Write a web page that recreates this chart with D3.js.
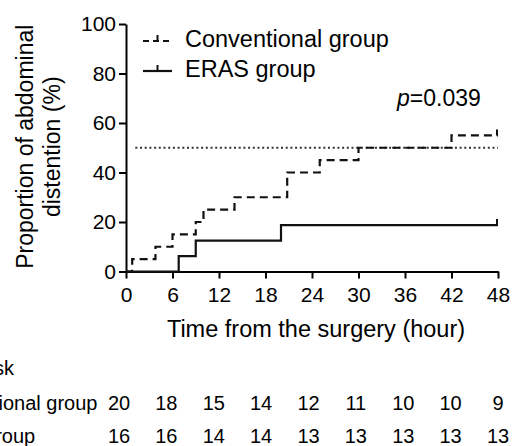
<!DOCTYPE html>
<html>
<head>
<meta charset="utf-8">
<script src="https://cdn.jsdelivr.net/npm/d3@7"></script>
<style>
  body { margin: 0; background: #fff; }
  svg { display: block; font-family: "Liberation Sans", Arial, sans-serif; }
</style>
</head>
<body>
<div id="graph"></div>
<script>
// values
const xTicks = [0, 6, 12, 18, 24, 30, 36, 42, 48];
const yTicks = [0, 20, 40, 60, 80, 100];

const convTimes  = [0, 0.8, 3.8, 6, 9, 10, 14, 20.8, 25, 30, 42, 48];
const convValues = [0, 5, 10, 15, 20, 25, 30, 40, 45, 50, 55, 55];
const erasTimes  = [0, 6.8, 9, 20, 48];
const erasValues = [0, 6.25, 12.5, 18.75, 18.75];

const refLevel = 50;
const refStart = 1.2;
const pText = "=0.039";

const groups = ["Conventional group", "ERAS group"];
const convAtRisk = [20, 18, 15, 14, 12, 11, 10, 10, 9];
const erasAtRisk = [16, 16, 14, 14, 13, 13, 13, 13, 13];

const width = 512, height = 446;

const svg = d3.select('#graph')
  .append('svg')
  .attr('width', width).attr('height', height)
  .style('background', 'white');

const xScale = d3.scaleLinear().domain([0, 48]).range([126, 498]);
const yScale = d3.scaleLinear().domain([0, 100]).range([271.5, 24]);

// axes
const xAxis = d3.axisBottom(xScale).tickValues(xTicks).tickSize(7).tickSizeOuter(0).tickPadding(9);
const yAxis = d3.axisLeft(yScale).tickValues(yTicks).tickSize(7).tickSizeOuter(0).tickPadding(3);

const gx = svg.append('g').attr('transform', `translate(0,${yScale(0)})`).call(xAxis);
const gy = svg.append('g').attr('transform', `translate(${xScale(0)},0)`).call(yAxis);

[gx, gy].forEach(g => {
  g.select('.domain').attr('stroke', '#000').attr('stroke-width', 2);
  g.selectAll('.tick line').attr('stroke', '#000').attr('stroke-width', 2);
  g.selectAll('.tick text').attr('fill', '#000').style('font-size', '21px')
    .style('font-family', '"Liberation Sans", Arial, sans-serif');
});

// reference line at 50%
svg.append('line')
  .attr('x1', xScale(refStart)).attr('x2', xScale(48))
  .attr('y1', yScale(refLevel)).attr('y2', yScale(refLevel))
  .attr('stroke', '#333').attr('stroke-width', 2)
  .attr('stroke-dasharray', '2,2.7');

const line = d3.line()
  .x(d => xScale(d[0]))
  .y(d => yScale(d[1]))
  .curve(d3.curveStepAfter);

const convData = convTimes.map((t, i) => [t, convValues[i]]);
const erasData = erasTimes.map((t, i) => [t, erasValues[i]]);

svg.append('path')
  .datum(convData)
  .attr('d', line)
  .attr('fill', 'none')
  .attr('stroke', '#111')
  .attr('stroke-width', 2.2)
  .attr('stroke-dasharray', '8,5');

svg.append('path')
  .datum(erasData)
  .attr('d', line)
  .attr('fill', 'none')
  .attr('stroke', '#111')
  .attr('stroke-width', 2.2);

// censor ticks at the end of follow-up
[[48, convValues[convValues.length - 1]], [48, erasValues[erasValues.length - 1]]].forEach(d => {
  svg.append('line')
    .attr('x1', xScale(d[0]) - 1).attr('x2', xScale(d[0]) - 1)
    .attr('y1', yScale(d[1])).attr('y2', yScale(d[1]) - 6)
    .attr('stroke', '#111').attr('stroke-width', 2);
});

// legend
const legend = svg.append('g');
const legendY = [41, 71];
groups.forEach((g, i) => {
  const row = legend.append('g').attr('transform', `translate(0,${legendY[i]})`);
  row.append('line')
    .attr('x1', 143).attr('x2', 172).attr('y1', 0).attr('y2', 0)
    .attr('stroke', '#111').attr('stroke-width', 2.2)
    .attr('stroke-dasharray', i === 0 ? '6,4' : null);
  row.append('line')
    .attr('x1', 157.5).attr('x2', 157.5).attr('y1', 0).attr('y2', -6)
    .attr('stroke', '#111').attr('stroke-width', 2);
  row.append('text')
    .attr('x', 185).attr('y', 6)
    .style('font-size', '23.5px')
    .text(g);
});

// p value
const pt = svg.append('text')
  .attr('x', 397).attr('y', 106)
  .style('font-size', '23px');
pt.append('tspan').style('font-style', 'italic').text('p');
pt.append('tspan').text(pText);

// axis titles
svg.append('text')
  .attr('x', 316).attr('y', 337)
  .style('text-anchor', 'middle')
  .style('font-size', '23.5px')
  .text('Time from the surgery (hour)');

const yTitle = ['Proportion of abdominal', 'distention (%)'];
const yTitleX = [33, 60];
yTitle.forEach((t, i) => {
  svg.append('text')
    .attr('transform', `translate(${yTitleX[i]},${(yScale(0) + yScale(100)) / 2 - 1}) rotate(-90)`)
    .style('text-anchor', 'middle')
    .style('font-size', '23px')
    .text(t);
});

// number at risk table (row labels run off the left edge, as in the reference)
const colScale = d3.scalePoint().domain(xTicks).range([119, 498]);
const tableFont = '20px';

svg.append('text')
  .attr('x', -76).attr('y', 375)
  .style('font-size', tableFont)
  .text('No. at risk');

const rows = [convAtRisk, erasAtRisk];
const rowY = [410, 443];
rows.forEach((vals, r) => {
  svg.append('text')
    .attr('x', -76).attr('y', rowY[r])
    .style('font-size', tableFont)
    .text(groups[r]);
  svg.append('g').selectAll('text')
    .data(vals)
    .enter().append('text')
    .attr('x', (d, i) => colScale(xTicks[i]))
    .attr('y', rowY[r])
    .style('text-anchor', 'middle')
    .style('font-size', tableFont)
    .text(d => d);
});
</script>
</body>
</html>
